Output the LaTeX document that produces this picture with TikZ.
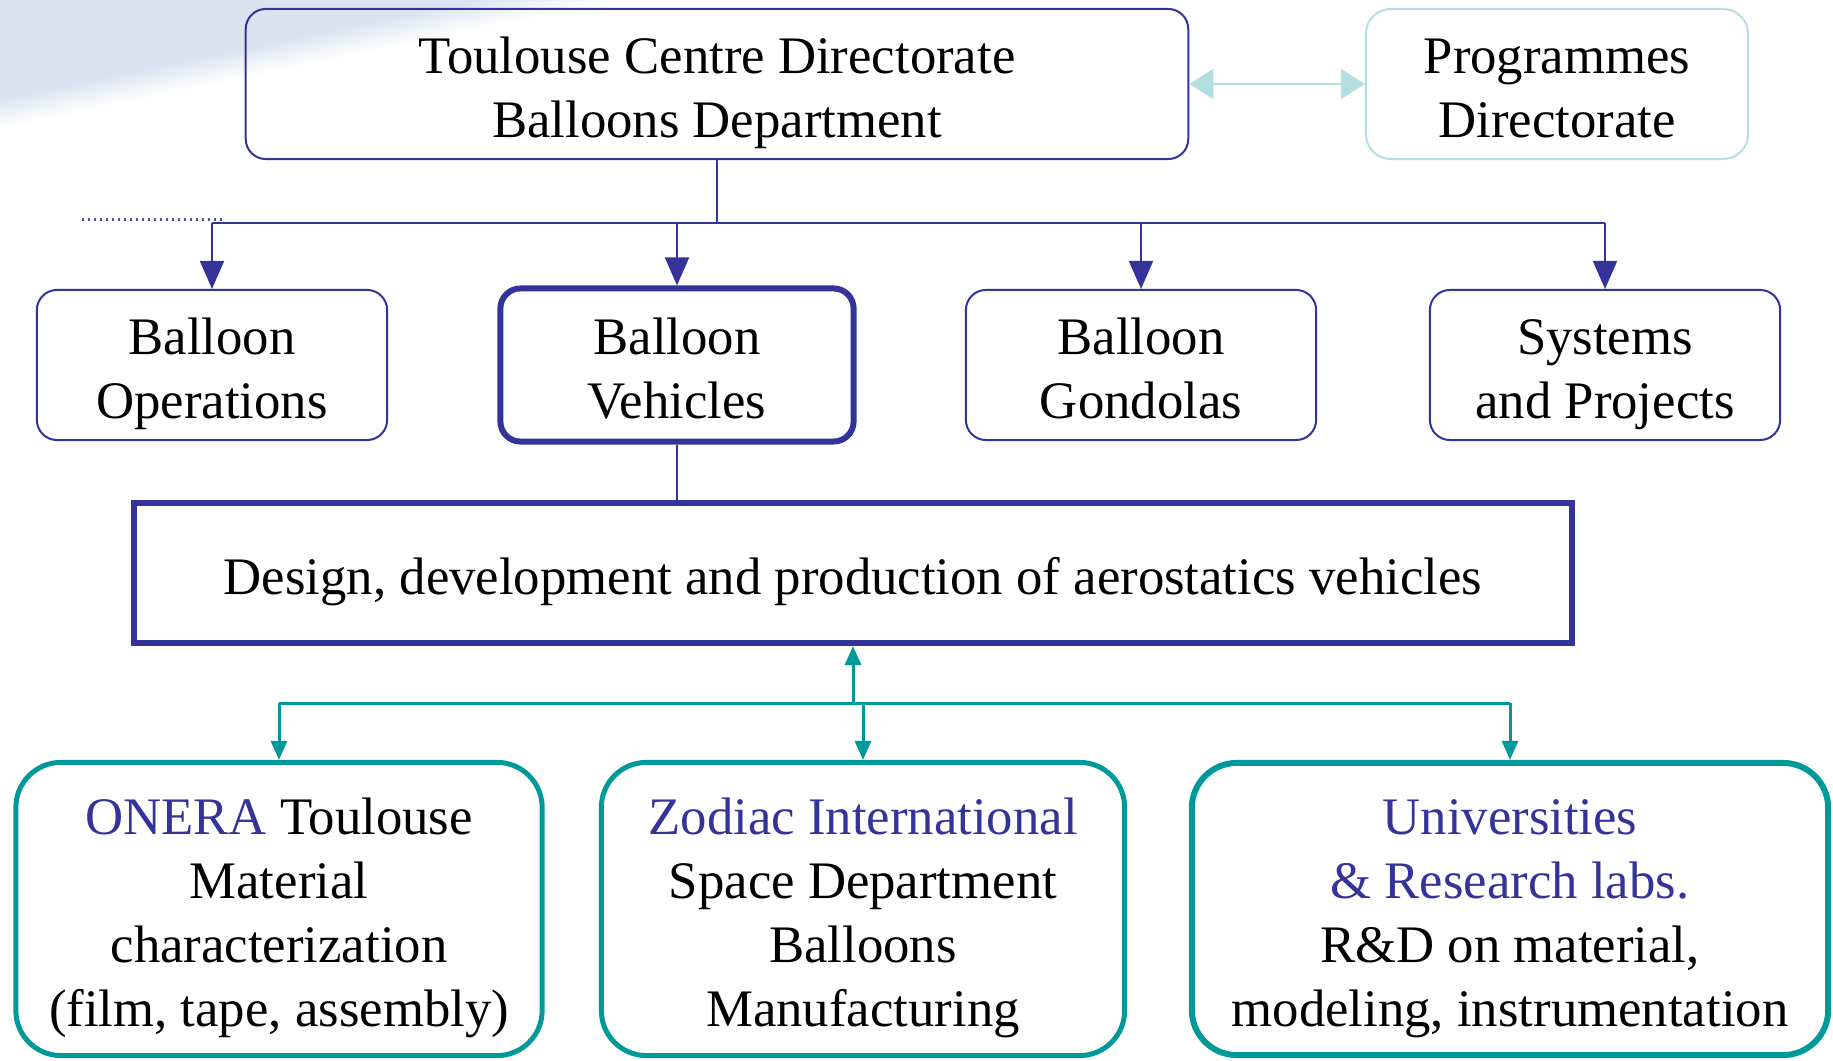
\documentclass[tikz,border=0pt]{standalone}
\usepackage{fontspec}
\setmainfont{Liberation Serif}
\usetikzlibrary{arrows.meta}
\definecolor{navy}{HTML}{333399}
\definecolor{tealc}{HTML}{009999}
\definecolor{pale}{HTML}{B3DFE0}
\definecolor{bgblue}{HTML}{DCE3F0}

\begin{document}
\begin{tikzpicture}[x=0.01cm, y=-0.01cm, font=\fontsize{15}{18.2}\selectfont,
  dept/.style={draw=navy, line width=0.2mm, rounded corners=0.2cm, minimum width=3.5cm, minimum height=1.5cm, align=center, inner sep=0pt, text height=36pt, text depth=5.5pt},
  partner/.style={draw=tealc, line width=0.5mm, rounded corners=0.45cm, minimum height=2.93cm, align=center, inner sep=0pt, text height=72.4pt, text depth=5.5pt},
  link/.style={navy, line width=0.2mm},
  down/.style={link, -{Triangle[width=0.24cm, length=0.28cm]}},
  tlink/.style={tealc, line width=0.3mm},
  tarrow/.style={tlink, -{Triangle[width=0.16cm, length=0.19cm]}}]
\useasboundingbox (0,0) rectangle (1833,1061);
\foreach \k in {0,...,15} {
  \pgfmathsetmacro\yy{130-2*\k}
  \pgfmathtruncatemacro\pc{100*\k/15}
  \fill[bgblue!\pc!white] (0,0) -- (4.8*\yy,0) -- (0,\yy) -- cycle;
}
\draw[navy!85!white, line width=0.3mm, dash pattern=on 0.6pt off 1.1pt] (82,220) -- (224,220);

\node[dept, minimum width=9.42cm] (dir) at (717,84) {Toulouse Centre Directorate\\Balloons Department};
\node[dept, draw=pale, minimum width=3.82cm, rounded corners=0.25cm] (prog) at (1557,84) {Programmes\\Directorate};
\node[dept] (ops) at (212,365) {Balloon\\Operations};
\node[dept, line width=0.6mm, minimum width=3.53cm, minimum height=1.53cm] (veh) at (677,365) {Balloon\\Vehicles};
\node[dept] (gon) at (1141,365) {Balloon\\Gondolas};
\node[dept] (sys) at (1605,365) {Systems\\and Projects};
\node[draw=navy, line width=0.6mm, minimum width=14.37cm, minimum height=1.4cm, text height=17.8pt, text depth=5.5pt] (des) at (853,573) {Design, development and production of aerostatics vehicles};
\node[partner, minimum width=5.26cm] (onera) at (279,909) {\textcolor{navy}{ONERA} Toulouse\\Material\\characterization\\(film, tape, assembly)};
\node[partner, minimum width=5.23cm] (zod) at (863,909) {\textcolor{navy}{Zodiac International}\\Space Department\\Balloons\\Manufacturing};
\node[partner, line width=0.6mm, minimum width=6.36cm, minimum height=2.92cm] (univ) at (1510,909) {\textcolor{navy}{Universities}\\\textcolor{navy}{\& Research labs.}\\R\&D on material,\\modeling, instrumentation};

\draw[pale, line width=0.2mm, {Triangle[width=0.3cm, length=0.24cm]}-{Triangle[width=0.3cm, length=0.24cm]}] (dir) -- (prog);
\coordinate (bus) at (717,223);
\draw[link] (dir) -- (bus);
\draw[link] (bus -| ops) -- (bus -| sys);
\foreach \n in {ops,veh,gon,sys}
  \draw[down] (bus -| \n) -- (\n.north);
\draw[link] (veh.south) -- (veh.south |- des.north);
\coordinate (tbus) at (853,703);
\draw[tarrow] (tbus) -- (des.south);
\draw[tlink] (tbus -| onera) -- (tbus -| univ);
\foreach \n in {onera,zod,univ}
  \draw[tarrow] (tbus -| \n) -- (\n.north);
\end{tikzpicture}
\end{document}
